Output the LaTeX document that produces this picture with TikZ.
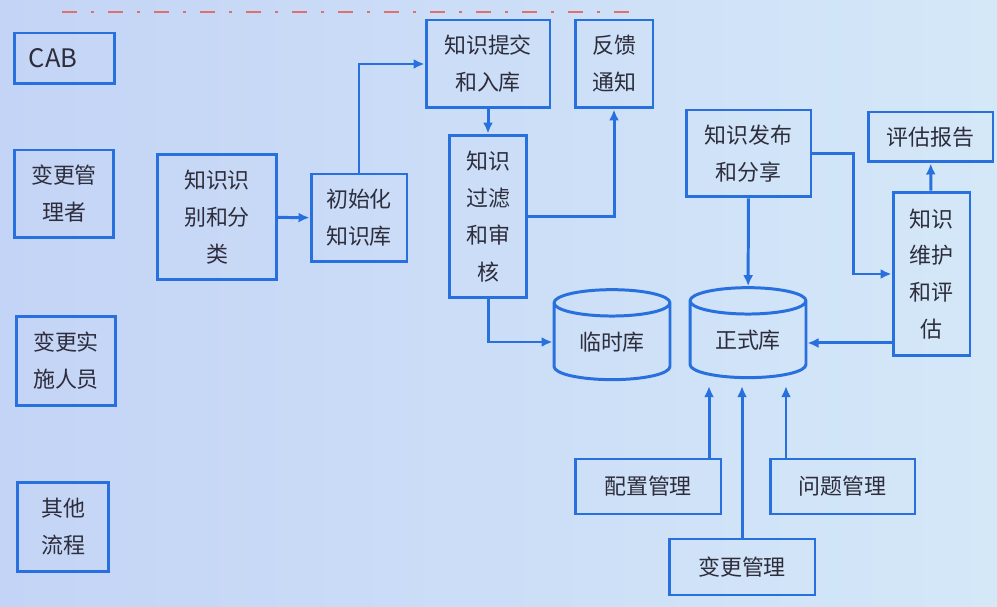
\documentclass[tikz,border=0pt]{standalone}
\usepackage{fontspec}
\setmainfont{Noto Sans CJK SC}
\usepackage{tikz}
\usetikzlibrary{arrows.meta, shapes.geometric}
\definecolor{flowblue}{RGB}{40, 112, 222}
\definecolor{inktext}{RGB}{45, 45, 60}
\definecolor{bgleft}{RGB}{196, 212, 246}
\definecolor{bgright}{RGB}{212, 232, 248}
\definecolor{dashred}{RGB}{222, 112, 112}
\tikzset{
    box/.style  ={draw=flowblue, line width=1.7pt, inner sep=0pt,
                  align=center, text=inktext,
                  font=\fontsize{12.5pt}{21pt}\selectfont},
    store/.style={box, cylinder, shape border rotate=90, aspect=0.4,
                  minimum width=2.32cm, minimum height=1.8cm},
    ar/.style   ={-{Latex[length=2.2mm, width=2mm]}, line width=1.7pt, draw=flowblue}
}

\begin{document}
\begin{tikzpicture}[x=0.02cm, y=-0.02cm]
  \useasboundingbox (0,0) rectangle (997,607);
  \fill[left color=bgleft, right color=bgright] (0,0) rectangle (997,607);
  \draw[dashred, line width=1.5pt,
        dash pattern=on 0.3cm off 0.28cm on 0.06cm off 0.28cm] (62,12) -- (630,12);

  \node[box, minimum width=2.02cm, minimum height=1.02cm,
        font=\fontsize{14.5pt}{18pt}\selectfont] (cab) at (64.5,58.5) {CAB\hspace*{0.46cm}};
  \node[box, minimum width=2.0cm,  minimum height=1.76cm] (chgmgr)  at (64,194)    {变更管\\理者};
  \node[box, minimum width=1.98cm, minimum height=1.78cm] (chgimpl) at (66,361)    {变更实\\施人员};
  \node[box, minimum width=1.82cm, minimum height=1.78cm] (other)   at (63,527)    {其他\\流程};

  \node[box, minimum width=2.38cm, minimum height=2.52cm] (identify) at (217,217)  {知识识\\别和分\\类};
  \node[box, minimum width=1.92cm, minimum height=1.76cm] (init)     at (359,218)  {初始化\\知识库};
  \node[box, minimum width=2.48cm, minimum height=1.76cm] (submit)   at (488,64)   {知识提交\\和入库};
  \node[box, minimum width=1.56cm, minimum height=1.76cm] (feedback) at (614,64)   {反馈\\通知};
  \node[box, minimum width=1.54cm, minimum height=3.26cm] (filter)   at (488,216.5){知识\\过滤\\和审\\核};
  \node[store] (temp)   at (612,342) {临时库};
  \node[store] (formal) at (748,340) {正式库};

  \node[box, minimum width=2.5cm,  minimum height=1.74cm] (publish)  at (748.5,153.5) {知识发布\\和分享};
  \node[box, minimum width=2.5cm,  minimum height=1.0cm]  (report)   at (930.5,137)   {评估报告};
  \node[box, minimum width=1.54cm, minimum height=3.28cm] (maintain) at (931.5,274)   {知识\\维护\\和评\\估};

  \node[box, minimum width=2.92cm, minimum height=1.1cm]  (cfgmgmt)  at (648,486.5) {配置管理};
  \node[box, minimum width=2.9cm,  minimum height=1.1cm]  (probmgmt) at (842.5,486.5) {问题管理};
  \node[box, minimum width=2.92cm, minimum height=1.12cm] (chgmgmt)  at (742,567) {变更管理};

  \coordinate (mtout) at ([yshift=-1.38cm]maintain.west);
  \coordinate (zin1)  at ([xshift=-0.78cm, yshift=-0.14cm]formal.south);
  \coordinate (zin2)  at ([xshift=-0.12cm, yshift=-0.14cm]formal.south);
  \coordinate (zin3)  at ([xshift=0.76cm,  yshift=-0.14cm]formal.south);

  \draw[ar] (identify) -- (init);
  \draw[ar] (init) |- (submit);
  \draw[ar] (submit) -- (filter);
  \draw[ar] (filter) -| (feedback);
  \draw[ar] (filter.south) |- (temp);
  \draw[ar] (publish) -- (formal);
  \draw[ar] (publish.east) -- ++(0.82cm,0) |- (maintain);
  \draw[ar] (maintain) -- (report);
  \draw[ar] (mtout) -- (mtout -| formal.east);
  \draw[ar] (cfgmgmt.north -| zin1) -- (zin1);
  \draw[ar] (chgmgmt.north -| zin2) -- (zin2);
  \draw[ar] (probmgmt.north -| zin3) -- (zin3);
\end{tikzpicture}
\end{document}
